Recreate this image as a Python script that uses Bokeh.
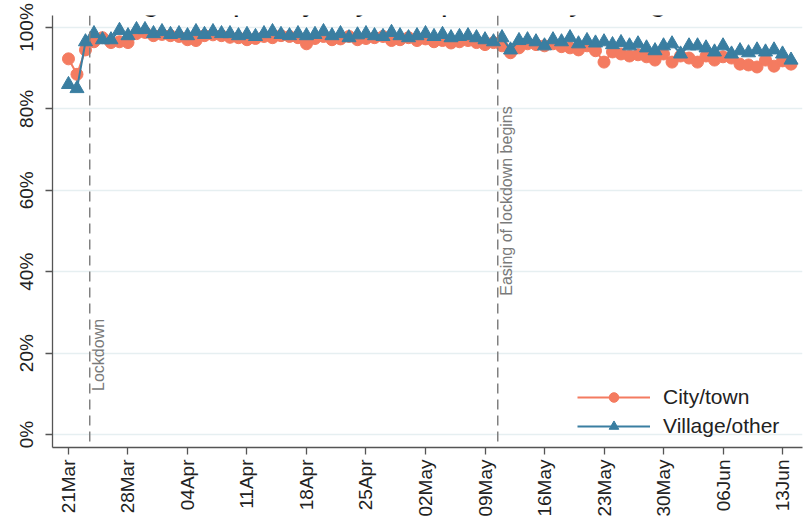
import numpy as np
import pandas as pd
from bokeh.plotting import figure
from bokeh.models import (Range1d, FixedTicker, DatetimeTickFormatter,
                          PrintfTickFormatter, Span, Label)
from bokeh.embed import file_html
from bokeh.resources import INLINE

# ---------------- data ----------------
start_date = "2020-03-21"
city = [92.3, 88.5, 94.5, 96.5, 97.5, 96.3, 96.5, 96.3, 98.5, 98.8,
        98.0, 98.3, 98.0, 97.8, 97.0, 96.8, 98.0, 98.2, 98.0, 97.6,
        97.5, 97.0, 97.3, 97.8, 97.5, 98.0, 97.8, 97.5, 96.0, 97.3,
        97.8, 97.0, 97.2, 97.8, 97.0, 97.3, 97.5, 97.8, 96.8, 97.0,
        97.5, 96.8, 97.2, 96.5, 96.8, 96.2, 96.5, 96.8, 96.3, 95.8,
        96.3, 95.5, 93.8, 95.0, 96.0, 95.8, 95.5, 96.0, 95.3, 95.0,
        94.5, 95.5, 94.3, 91.5, 94.0, 93.5, 93.0, 93.3, 92.8, 92.0,
        93.5, 91.5, 93.0, 92.5, 91.5, 93.0, 92.0, 92.8, 92.5, 91.0,
        90.8, 90.3, 92.0, 90.5, 91.8, 91.0]
village = [86.0, 85.0, 96.5, 98.5, 97.0, 97.0, 99.3, 98.0, 99.5, 99.5,
           98.5, 99.0, 98.3, 98.5, 98.0, 99.0, 98.3, 99.0, 98.5, 98.5,
           98.0, 98.3, 97.8, 98.5, 99.0, 98.3, 98.0, 98.5, 98.0, 98.3,
           99.0, 98.0, 98.5, 97.5, 98.2, 98.5, 98.0, 97.8, 98.8, 98.0,
           97.5, 98.0, 98.5, 97.8, 98.3, 97.5, 97.8, 98.0, 97.5, 97.0,
           96.5, 97.5, 94.5, 96.8, 97.0, 96.5, 95.5, 97.0, 96.5, 97.5,
           96.0, 96.8, 96.2, 96.5, 95.8, 96.3, 95.5, 96.0, 95.0, 94.3,
           95.5, 96.0, 93.5, 95.5, 95.5, 95.0, 94.0, 95.5, 93.5, 94.3,
           93.8, 94.5, 94.0, 94.5, 93.5, 92.0]
x_tick_dates = ["2020-03-21", "2020-03-28", "2020-04-04", "2020-04-11",
                "2020-04-18", "2020-04-25", "2020-05-02", "2020-05-09",
                "2020-05-16", "2020-05-23", "2020-05-30", "2020-06-06",
                "2020-06-13"]
y_ticks = [0, 20, 40, 60, 80, 100]
event_dates = ["2020-03-23 12:00", "2020-05-10 12:00"]
event_labels = ["Lockdown", "Easing of lockdown begins"]
title_text = "Figure 2p Majority compliance by living area"
series_names = ["City/town", "Village/other"]

# ---------------- styling ----------------
C_CITY = "#F47B60"
C_VILL = "#3A7EA1"
FONT = "Liberation Sans"
DAY = 86400000.0


def ms(ts):
    return pd.Timestamp(ts).value / 1e6


dates = pd.date_range(start_date, periods=len(city), freq="D")
t0 = ms(start_date)

p = figure(width=812, height=526, x_axis_type="datetime",
           output_backend="svg", toolbar_location=None,
           x_range=Range1d(t0 - 1.88 * DAY, t0 + 86.35 * DAY),
           y_range=Range1d(-3.19, 102.95),
           min_border_left=52, min_border_right=10,
           min_border_top=15, min_border_bottom=79)
p.outline_line_color = None
p.background_fill_color = "white"
p.border_fill_color = "white"

p.xgrid.visible = False
p.ygrid.grid_line_color = "#e6eff1"
p.ygrid.grid_line_width = 1.5

p.xaxis.ticker = FixedTicker(ticks=[ms(d) for d in x_tick_dates])
fmt = "%d%b"
p.xaxis.formatter = DatetimeTickFormatter(
    milliseconds=fmt, seconds=fmt, minsec=fmt, minutes=fmt, hourmin=fmt,
    hours=fmt, days=fmt, months=fmt, years=fmt)
p.yaxis.ticker = FixedTicker(ticks=y_ticks)
p.yaxis.formatter = PrintfTickFormatter(format="%d%%")

for ax in (p.xaxis[0], p.yaxis[0]):
    ax.axis_line_color = "#555555"
    ax.axis_line_width = 1.3
    ax.major_tick_line_color = "#555555"
    ax.major_tick_line_width = 1.3
    ax.major_tick_out = 7
    ax.major_tick_in = 0
    ax.minor_tick_line_color = None
    ax.major_label_text_font = FONT
    ax.major_label_text_font_size = "19px"
    ax.major_label_text_color = "#222222"
p.xaxis.major_label_orientation = np.pi / 2
p.yaxis.major_label_orientation = "vertical"
p.yaxis.major_label_standoff = 8
p.xaxis.major_label_standoff = 5

# event lines
label_y = [10.7, 34.1]
for d, txt, ly in zip(event_dates, event_labels, label_y):
    p.add_layout(Span(location=ms(d), dimension="height",
                      line_color="#808080", line_dash="10 6",
                      line_width=1.5))
    p.add_layout(Label(x=ms(d), y=ly, text=txt, angle=np.pi / 2,
                       text_align="left", text_baseline="top", x_offset=0,
                       text_font=FONT, text_font_size="16px",
                       text_color="#7a7a7a"))

# series
p.line(dates, city, line_color=C_CITY, line_width=2,
       legend_label=series_names[0])
p.scatter(dates, city, marker="circle", size=12, fill_color=C_CITY,
          line_color=C_CITY, legend_label=series_names[0])
p.line(dates, village, line_color=C_VILL, line_width=2,
       legend_label=series_names[1])
p.scatter(dates, village, marker="triangle", size=14, fill_color=C_VILL,
          line_color=C_VILL, legend_label=series_names[1])

lg = p.legend[0]
lg.location = (525, 9)
lg.border_line_color = None
lg.background_fill_alpha = 0.0
lg.label_text_font = FONT
lg.label_text_font_size = "21px"
lg.label_text_color = "#222222"
lg.glyph_width = 73
lg.glyph_height = 24
lg.label_height = 24
lg.label_standoff = 13
lg.spacing = 5
lg.padding = 5

# title (partly cut off at the top, as in the reference)
p.add_layout(Label(x=375, y=449, x_units="screen", y_units="screen",
                   text=title_text, text_align="center",
                   text_baseline="alphabetic", text_font=FONT,
                   text_font_size="32px", text_color="#111111"))

open("out.html", "w").write(file_html(p, INLINE))
